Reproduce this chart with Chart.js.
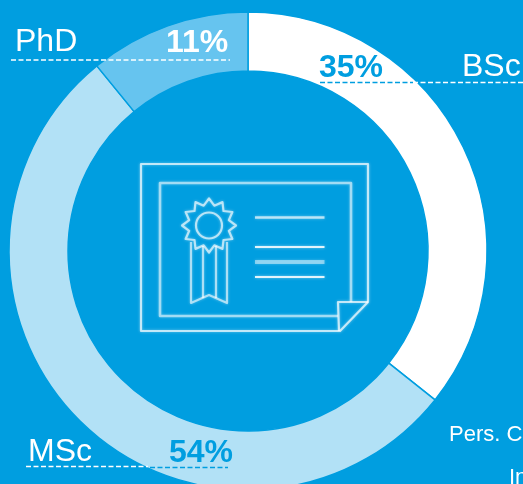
<!DOCTYPE html>
<html>
<head>
<meta charset="utf-8">
<style>
    html, body { margin: 0; padding: 0; background: #009ee0; overflow: hidden; width: 523px; height: 484px; }
    canvas { display: block; }
</style>
</head>
<body>
<canvas id="degreeChart"></canvas>
<script src="https://cdn.jsdelivr.net/npm/chart.js@4/dist/chart.umd.min.js"></script>
<script>
const categories = ['BSc', 'MSc', 'PhD'];
const shares = [35.7, 53.4, 10.9];
const shareLabels = ['35%', '54%', '11%'];
const sliceColors = ['#ffffff', '#b2e1f6', '#66c4ef'];
const clippedLabels = ['Pers. C', 'In'];

const BG = '#009ee0';
const FONT = '"Liberation Sans", Arial, sans-serif';

function dashed(ctx, x1, x2, y, color) {
    ctx.strokeStyle = color;
    ctx.lineWidth = 1.3;
    ctx.setLineDash([5, 2.5]);
    ctx.beginPath();
    ctx.moveTo(x1, y);
    ctx.lineTo(x2, y);
    ctx.stroke();
    ctx.setLineDash([]);
}

// Category name, share and the dashed rule under them
const labelsPlugin = {
    id: 'labels',
    afterDraw(chart) {
        const ctx = chart.ctx;
        ctx.save();
        ctx.textBaseline = 'alphabetic';
        ctx.textAlign = 'left';

        ctx.fillStyle = '#fff';
        ctx.font = '32px ' + FONT;
        ctx.fillText(categories[0], 462, 76);
        ctx.fillText(categories[1], 28, 461);
        ctx.fillText(categories[2], 15, 51);

        ctx.font = 'bold 32px ' + FONT;
        ctx.fillStyle = BG;
        ctx.fillText(shareLabels[0], 319, 77);
        ctx.fillText(shareLabels[1], 169, 462);
        ctx.fillStyle = '#fff';
        ctx.fillText(shareLabels[2], 166, 52);

        dashed(ctx, 320, 413, 82.5, BG);
        dashed(ctx, 413, 523, 82.5, '#fff');
        dashed(ctx, 26, 148, 466.5, '#fff');
        dashed(ctx, 150, 228, 467.5, BG);
        dashed(ctx, 11, 230, 60, '#fff');

        ctx.fillStyle = '#fff';
        ctx.font = '22px ' + FONT;
        ctx.fillText(clippedLabels[0], 449, 441);
        ctx.fillText(clippedLabels[1], 509, 484);
        ctx.restore();
    }
};

// Certificate icon in the middle of the ring
const iconPlugin = {
    id: 'icon',
    afterDraw(chart) {
        const ctx = chart.ctx;
        ctx.save();
        ctx.lineJoin = 'round';
        ctx.shadowColor = 'rgba(255,255,255,0.6)';
        ctx.shadowBlur = 3;

        const line = (pts, width, alpha, close) => {
            ctx.strokeStyle = 'rgba(255,255,255,' + alpha + ')';
            ctx.lineWidth = width;
            ctx.beginPath();
            pts.forEach((p, i) => i ? ctx.lineTo(p[0], p[1]) : ctx.moveTo(p[0], p[1]));
            if (close) ctx.closePath();
            ctx.stroke();
        };

        // paper and fold
        line([[141, 164], [368, 164], [368, 302], [340, 331], [141, 331]], 2.2, 0.7, true);
        line([[368, 302], [338, 302], [339, 331]], 2.2, 0.7);
        line([[338, 316], [160, 316], [160, 183], [351, 183], [351, 302]], 2.6, 0.55);

        // text lines
        line([[255, 217.5], [324.5, 217.5]], 2.4, 0.65);
        line([[255, 247], [324.5, 247]], 2, 0.85);
        line([[255, 262], [324.5, 262]], 4, 0.45);
        line([[255, 277], [324.5, 277]], 2, 0.85);

        // seal
        const star = [];
        for (let i = 0; i < 24; i++) {
            const r = i % 2 ? 20.5 : 27;
            const a = i * Math.PI / 12;
            star.push([209 + r * Math.cos(a), 225.5 + r * Math.sin(a)]);
        }
        line(star, 2.2, 0.65, true);
        ctx.strokeStyle = 'rgba(255,255,255,0.65)';
        ctx.lineWidth = 2.2;
        ctx.beginPath();
        ctx.arc(209, 225.5, 13, 0, Math.PI * 2);
        ctx.stroke();

        // ribbon
        line([[191, 242], [191, 303], [209, 295], [227, 303], [227, 242]], 2.2, 0.6);
        line([[203, 246], [203, 298]], 2.2, 0.6);
        line([[216, 246], [216, 298]], 2.2, 0.6);
        ctx.restore();
    }
};

document.addEventListener('DOMContentLoaded', () => {
    const canvas = document.getElementById('degreeChart');
    canvas.width = 523;
    canvas.height = 505;

    new Chart(canvas.getContext('2d'), {
        type: 'doughnut',
        data: {
            labels: categories,
            datasets: [{
                data: shares,
                backgroundColor: sliceColors,
                borderColor: BG,
                borderWidth: 1.5
            }]
        },
        options: {
            responsive: false,
            animation: false,
            radius: 239,
            cutout: '75.3%',
            layout: { padding: { left: 10, right: 37, top: 13, bottom: 16 } },
            plugins: {
                legend: { display: false },
                tooltip: { enabled: false }
            }
        },
        plugins: [labelsPlugin, iconPlugin]
    });
});
</script>
</body>
</html>
